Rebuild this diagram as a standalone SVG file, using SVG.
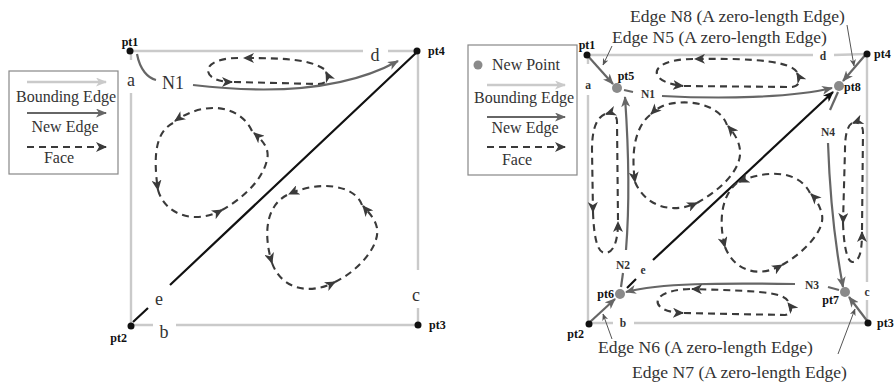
<svg xmlns="http://www.w3.org/2000/svg" width="895" height="384" viewBox="0 0 895 384">
<style>
.bnd{fill:none;stroke:#cacaca;stroke-width:2.4}
.new{fill:none;stroke:#666;stroke-width:2.2}
.blk{fill:none;stroke:#111;stroke-width:2.2}
.face{fill:none;stroke:#3a3a3a;stroke-width:2.1;stroke-dasharray:7 5}
.lead{fill:none;stroke:#555;stroke-width:1}
.lbl{font-family:"Liberation Serif","Times New Roman",serif;fill:#333}
.big{font-size:18px}
.leg{font-size:16px}
.ann{font-size:17.6px}
.pt{font-family:"Liberation Serif","Times New Roman",serif;font-weight:bold;font-size:12px;fill:#111}
.sm{font-family:"Liberation Serif","Times New Roman",serif;font-weight:bold;font-size:11.5px;fill:#333}
.dot{fill:#111}
.np{fill:#8a8a8a}
</style>
<defs>
<marker id="aL" markerUnits="userSpaceOnUse" markerWidth="11" markerHeight="9" refX="10" refY="4.5" orient="auto"><path d="M0,0 L11,4.5 L0,9 L3,4.5 z" fill="#cacaca"/></marker>
<marker id="aG" markerUnits="userSpaceOnUse" markerWidth="11" markerHeight="9" refX="10" refY="4.5" orient="auto"><path d="M0,0 L11,4.5 L0,9 L3,4.5 z" fill="#666"/></marker>
<marker id="aB" markerUnits="userSpaceOnUse" markerWidth="11" markerHeight="9" refX="10" refY="4.5" orient="auto"><path d="M0,0 L11,4.5 L0,9 L3,4.5 z" fill="#111"/></marker>
<marker id="aF" markerUnits="userSpaceOnUse" markerWidth="11" markerHeight="10" refX="10" refY="5" orient="auto"><path d="M0,0 L11,5 L0,10 L3,5 z" fill="#3a3a3a"/></marker>
<marker id="aT" markerUnits="userSpaceOnUse" markerWidth="7" markerHeight="6" refX="6.5" refY="3" orient="auto"><path d="M0,0 L7,3 L0,6 L2,3 z" fill="#555"/></marker>
</defs>
<rect width="895" height="384" fill="#fff"/>

<!-- ===== LEFT DIAGRAM ===== -->
<g id="legend-left">
<rect x="9" y="71" width="109" height="103" fill="#fff" stroke="#888" stroke-width="1.2"/>
<path class="bnd" d="M27,82 L106,82" marker-end="url(#aL)"/>
<text class="lbl leg" x="66" y="102" text-anchor="middle">Bounding Edge</text>
<path class="new" d="M27,113 L106,113" marker-end="url(#aG)"/>
<text class="lbl leg" x="65" y="132" text-anchor="middle">New Edge</text>
<path class="face" d="M27,147 L106,147" marker-end="url(#aF)"/>
<text class="lbl leg" x="59" y="163" text-anchor="middle">Face</text>
</g>

<g id="connectors-left">
<g id="edge-d"><path class="bnd" d="M130,51 L363,51 M388,51 L417,51"/><text class="lbl big" x="375" y="61" text-anchor="middle">d</text></g>
<g id="edge-a"><path class="bnd" d="M131,51 L131,60 M131,93 L131,325"/><text class="lbl big" x="131" y="86" text-anchor="middle">a</text></g>
<g id="edge-b"><path class="bnd" d="M131,325 L153,325 M176,325 L418,325"/><text class="lbl big" x="164" y="338" text-anchor="middle">b</text></g>
<g id="edge-c"><path class="bnd" d="M418,51 L418,270 M418,308 L418,325"/><text class="lbl big" x="416" y="301" text-anchor="middle">c</text></g>
<g id="edge-e"><path class="blk" d="M133,322 L148,308 M170,285 L417,52"/><text class="lbl big" x="159" y="305" text-anchor="middle">e</text></g>
<g id="edge-N1"><path class="new" d="M137,54 C140,70 148,78 156,80"/><path class="new" d="M193,85 C260,93 340,93 398,61" marker-end="url(#aG)"/><text class="lbl big" x="173" y="89" text-anchor="middle">N1</text></g>
</g>

<g id="faces-left">
<g id="face-L-top">
<path class="face" d="M324,69 C310,60 290,58 244,58" marker-end="url(#aF)"/>
<path class="face" d="M238,58 C198,58 200,82 232,82" marker-end="url(#aF)"/>
<path class="face" d="M234,82 L318,84 C326,84 330,80 326,72" marker-end="url(#aF)"/>
</g>
<g id="face-L-left">
<path class="face" d="M252,131 C240,105 205,100 175,121" marker-end="url(#aF)"/>
<path class="face" d="M173,123 C158,131 152,150 158,190" marker-end="url(#aF)"/>
<path class="face" d="M158,190 C165,215 195,225 222,210" marker-end="url(#aF)"/>
<path class="face" d="M222,210 C240,200 262,182 267,160 C270,148 262,140 254,133" marker-end="url(#aF)"/>
</g>
<g id="face-L-right">
<path class="face" d="M362,205 C355,185 320,180 289,194" marker-end="url(#aF)"/>
<path class="face" d="M287,195 C268,205 262,230 272,263" marker-end="url(#aF)"/>
<path class="face" d="M272,263 C282,290 310,295 335,282" marker-end="url(#aF)"/>
<path class="face" d="M335,282 C360,270 380,245 377,228 C375,218 368,212 363,206" marker-end="url(#aF)"/>
</g>
</g>

<g id="pt1-left"><circle class="dot" cx="130" cy="51" r="3.5"/><text class="pt" x="130" y="46" text-anchor="middle">pt1</text></g>
<g id="pt4-left"><circle class="dot" cx="417" cy="51" r="3.5"/><text class="pt" x="428" y="55">pt4</text></g>
<g id="pt2-left"><circle class="dot" cx="131" cy="326" r="3.5"/><text class="pt" x="127" y="342" text-anchor="end">pt2</text></g>
<g id="pt3-left"><circle class="dot" cx="418" cy="325" r="3.5"/><text class="pt" x="429" y="329">pt3</text></g>

<!-- ===== RIGHT DIAGRAM ===== -->
<g id="legend-right">
<rect x="468" y="45" width="109" height="130" fill="#fff" stroke="#888" stroke-width="1.2"/>
<circle class="np" cx="478" cy="65" r="4.5"/>
<text class="lbl leg" x="492" y="70">New Point</text>
<path class="bnd" d="M487,85 L565,85" marker-end="url(#aL)"/>
<text class="lbl leg" x="524" y="103" text-anchor="middle">Bounding Edge</text>
<path class="new" d="M487,117 L565,117" marker-end="url(#aG)"/>
<text class="lbl leg" x="525" y="133" text-anchor="middle">New Edge</text>
<path class="face" d="M487,147 L565,147" marker-end="url(#aF)"/>
<text class="lbl leg" x="517" y="165" text-anchor="middle">Face</text>
</g>

<g id="connectors-right">
<g id="r-edge-d"><path class="bnd" d="M587,55 L813,55 M834,55 L867,54"/><text class="sm" x="823" y="60" text-anchor="middle">d</text></g>
<g id="r-edge-a"><path class="bnd" d="M588,55 L588,64 M588,95 L588,323"/><text class="sm" x="588" y="89" text-anchor="middle">a</text></g>
<g id="r-edge-b"><path class="bnd" d="M588,323 L613,323 M634,323 L868,323"/><text class="sm" x="623" y="327" text-anchor="middle">b</text></g>
<g id="r-edge-c"><path class="bnd" d="M867,54 L867,282 M867,300 L867,323"/><text class="sm" x="867" y="296" text-anchor="middle">c</text></g>
<g id="r-edge-e"><path class="blk" d="M627,288 L636,279"/><path class="blk" d="M653,260 L833,92" marker-end="url(#aB)"/><text class="sm" x="643" y="274" text-anchor="middle">e</text></g>
<g id="r-edge-N5"><path class="new" d="M587,55 L613,84" marker-end="url(#aG)"/></g>
<g id="r-edge-N8"><path class="new" d="M867,53 L843,81" marker-end="url(#aG)"/></g>
<g id="r-edge-N6"><path class="new" d="M590,322 L615,299" marker-end="url(#aG)"/></g>
<g id="r-edge-N7"><path class="new" d="M868,322 L849,297" marker-end="url(#aG)"/></g>
<g id="r-edge-N1"><path class="new" d="M624,90 L633,92"/><path class="new" d="M662,96 C720,99 790,98 832,88" marker-end="url(#aG)"/><text class="sm" x="648" y="98" text-anchor="middle">N1</text></g>
<g id="r-edge-N2"><path class="new" d="M621,287 L623,273"/><path class="new" d="M626,250 C630,200 628,140 625,97" marker-end="url(#aG)"/><text class="sm" x="623" y="269" text-anchor="middle">N2</text></g>
<g id="r-edge-N3"><path class="new" d="M839,290 L828,287"/><path class="new" d="M795,284 C720,283 660,283 626,292" marker-end="url(#aG)"/><text class="sm" x="812" y="289" text-anchor="middle">N3</text></g>
<g id="r-edge-N4"><path class="new" d="M838,92 L830,110"/><path class="new" d="M828,143 C830,200 836,250 843,287" marker-end="url(#aG)"/><text class="sm" x="828" y="136" text-anchor="middle">N4</text></g>
</g>

<g id="faces-right">
<g id="face-R-top">
<path class="face" d="M797,72 C790,62 760,58 695,59" marker-end="url(#aF)"/>
<path class="face" d="M693,59 C648,59 645,82 683,86" marker-end="url(#aF)"/>
<path class="face" d="M684,86 L792,87 C800,86 801,80 797,73" marker-end="url(#aF)"/>
</g>
<g id="face-R-left">
<path class="face" d="M618,220 L617,122 C617,115 612,112 606,114" marker-end="url(#aF)"/>
<path class="face" d="M605,114 C596,118 592,130 592,150 L593,212" marker-end="url(#aF)"/>
<path class="face" d="M593,212 C594,240 598,253 605,253 C614,253 618,240 618,222" marker-end="url(#aF)"/>
</g>
<g id="face-R-centerleft">
<path class="face" d="M727,125 C720,105 690,98 665,105 C658,108 654,111 651,114" marker-end="url(#aF)"/>
<path class="face" d="M650,115 C638,125 630,145 635,182" marker-end="url(#aF)"/>
<path class="face" d="M635,182 C645,205 670,215 697,203" marker-end="url(#aF)"/>
<path class="face" d="M697,203 C720,190 742,170 740,150 C739,140 733,132 728,126" marker-end="url(#aF)"/>
</g>
<g id="face-R-centerright">
<path class="face" d="M810,193 C800,172 770,168 739,182" marker-end="url(#aF)"/>
<path class="face" d="M737,183 C722,195 718,220 725,247" marker-end="url(#aF)"/>
<path class="face" d="M725,247 C735,272 760,278 782,265" marker-end="url(#aF)"/>
<path class="face" d="M782,265 C805,252 825,230 822,215 C820,205 815,198 811,194" marker-end="url(#aF)"/>
</g>
<g id="face-R-right">
<path class="face" d="M862,230 L863,132 C863,125 858,121 853,123" marker-end="url(#aF)"/>
<path class="face" d="M852,123 C846,127 845,140 845,150 L843,223" marker-end="url(#aF)"/>
<path class="face" d="M843,223 C844,250 848,263 853,262 C860,261 862,250 862,232" marker-end="url(#aF)"/>
</g>
<g id="face-R-bottom">
<path class="face" d="M788,301 C782,292 760,291 692,289" marker-end="url(#aF)"/>
<path class="face" d="M690,289 C648,290 648,312 683,313" marker-end="url(#aF)"/>
<path class="face" d="M684,313 L785,315 C792,314 792,308 788,303" marker-end="url(#aF)"/>
</g>
</g>

<g id="annotations">
<g id="ann-N8"><text class="lbl ann" x="630" y="22">Edge N8 (A zero-length Edge)</text><path class="lead" d="M847,25 L854,66" marker-end="url(#aT)"/></g>
<g id="ann-N5"><text class="lbl ann" x="612" y="43">Edge N5 (A zero-length Edge)</text><path class="lead" d="M612,46 L603,65" marker-end="url(#aT)"/></g>
<g id="ann-N6"><text class="lbl ann" x="598" y="353">Edge N6 (A zero-length Edge)</text><path class="lead" d="M612,339 L603,314" marker-end="url(#aT)"/></g>
<g id="ann-N7"><text class="lbl ann" x="632" y="378">Edge N7 (A zero-length Edge)</text><path class="lead" d="M838,354 L855,309" marker-end="url(#aT)"/></g>
</g>

<g id="pt1-right"><circle class="dot" cx="587" cy="55" r="3.5"/><text class="pt" x="587" y="49" text-anchor="middle">pt1</text></g>
<g id="pt4-right"><circle class="dot" cx="867" cy="54" r="3.5"/><text class="pt" x="874" y="58">pt4</text></g>
<g id="pt2-right"><circle class="dot" cx="589" cy="324" r="3.5"/><text class="pt" x="584" y="338" text-anchor="end">pt2</text></g>
<g id="pt3-right"><circle class="dot" cx="868" cy="323" r="3.5"/><text class="pt" x="877" y="327">pt3</text></g>
<g id="pt5"><circle class="np" cx="617" cy="88" r="5"/><text class="pt" x="626" y="80" text-anchor="middle">pt5</text></g>
<g id="pt8"><circle class="np" cx="839" cy="86" r="5"/><text class="pt" x="844" y="91">pt8</text></g>
<g id="pt6"><circle class="np" cx="620" cy="294" r="5"/><text class="pt" x="614" y="298" text-anchor="end">pt6</text></g>
<g id="pt7"><circle class="np" cx="845" cy="292" r="5"/><text class="pt" x="839" y="304" text-anchor="end">pt7</text></g>
</svg>
